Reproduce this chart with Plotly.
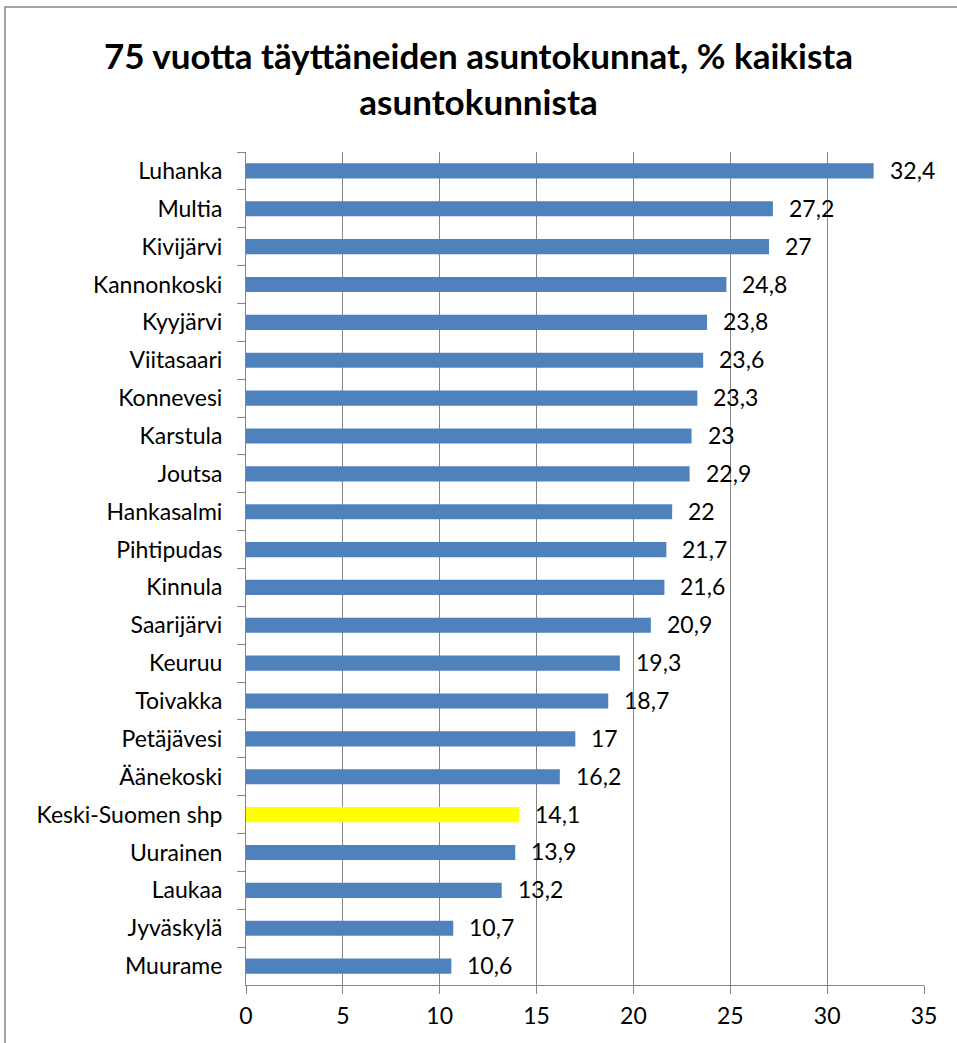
import plotly.graph_objects as go

categories = ["Luhanka", "Multia", "Kivijärvi", "Kannonkoski", "Kyyjärvi", "Viitasaari",
              "Konnevesi", "Karstula", "Joutsa", "Hankasalmi", "Pihtipudas", "Kinnula",
              "Saarijärvi", "Keuruu", "Toivakka", "Petäjävesi", "Äänekoski",
              "Keski-Suomen shp", "Uurainen", "Laukaa", "Jyväskylä", "Muurame"]
values = [32.4, 27.2, 27, 24.8, 23.8, 23.6, 23.3, 23, 22.9, 22, 21.7, 21.6,
          20.9, 19.3, 18.7, 17, 16.2, 14.1, 13.9, 13.2, 10.7, 10.6]
highlight = "Keski-Suomen shp"
x_ticks = [0, 5, 10, 15, 20, 25, 30, 35]
title_text = "75 vuotta täyttäneiden asuntokunnat, % kaikista<br>asuntokunnista"

FONT = "Lato, 'Open Sans', sans-serif"
FS = 23
colors = ["#FFFF00" if c == highlight else "#4F81BD" for c in categories]

fig = go.Figure()
fig.add_trace(go.Bar(
    x=values, y=categories, orientation="h",
    marker=dict(color=colors, line=dict(width=0)),
    width=0.4, hoverinfo="x+y",
))

for c, v in zip(categories, values):
    fig.add_annotation(x=v, y=c, xref="x", yref="y",
                       text=f"{v:g}".replace(".", ","),
                       showarrow=False, xanchor="left", yanchor="middle",
                       xshift=14, yshift=1,
                       font=dict(family=FONT, size=FS, color="#000000"))

# outer chart border (right and bottom edges fall outside the picture)
fig.add_shape(type="rect", xref="paper", yref="paper",
              x0=(5 - 246) / 678, x1=(975 - 246) / 678,
              y0=(985 - 1060) / 833, y1=(985 - 7) / 833,
              line=dict(color="#868686", width=1.5), fillcolor="rgba(0,0,0,0)",
              layer="below")

fig.update_layout(
    width=957, height=1043,
    margin=dict(l=246, r=33, t=152, b=58),
    paper_bgcolor="white", plot_bgcolor="white",
    showlegend=False,
    title=dict(text=title_text, x=0.5, xanchor="center", xref="container",
               y=1 - 69 / 1043, yanchor="middle", yref="container",
               font=dict(family=FONT, size=35, color="#000000", weight="bold")),
    font=dict(family=FONT, size=FS, color="#000000"),
)
fig.update_xaxes(range=[0, 35], tickvals=x_ticks, ticktext=[str(t) for t in x_ticks],
                 showgrid=True, gridcolor="#868686", gridwidth=1,
                 showline=True, linecolor="#868686", linewidth=1,
                 ticks="outside", ticklen=8, tickcolor="#868686",
                 ticklabelstandoff=2,
                 tickfont=dict(family=FONT, size=FS, color="#000000"),
                 zeroline=False, fixedrange=True)
fig.update_yaxes(categoryorder="array", categoryarray=categories, autorange="reversed",
                 showgrid=False, showline=True, linecolor="#868686", linewidth=1,
                 ticks="outside", ticklen=8, tickcolor="#868686", tickson="boundaries",
                 ticklabelstandoff=18,
                 tickfont=dict(family=FONT, size=FS, color="#000000"),
                 fixedrange=True)

fig.write_html("out.html", config={"displayModeBar": False},
               post_script="document.body.style.margin='0';")
